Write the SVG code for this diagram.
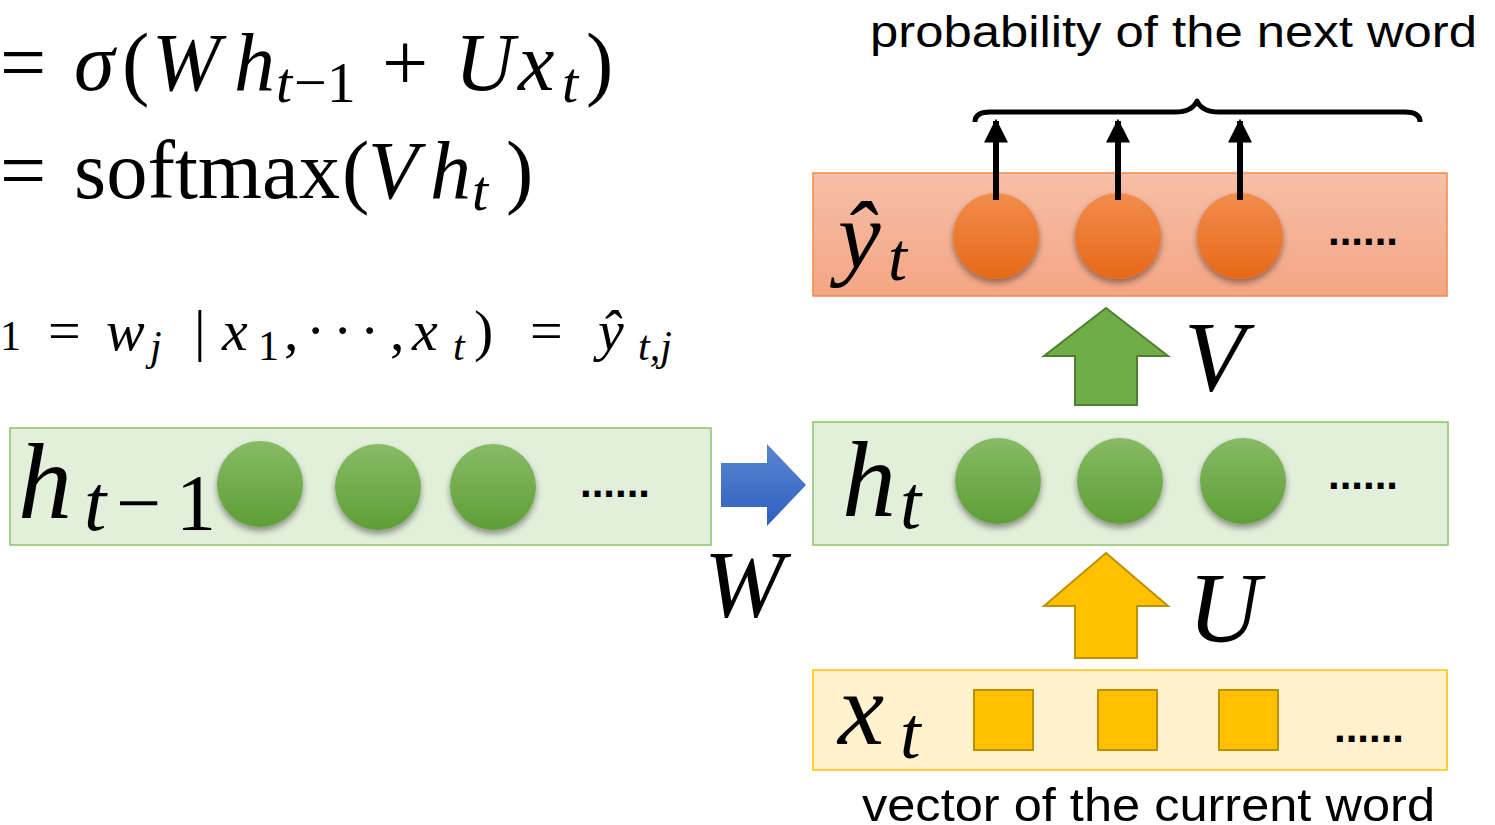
<svg xmlns="http://www.w3.org/2000/svg" width="1495" height="825" viewBox="0 0 1495 825">
<style>
.m{font-family:"Liberation Serif","DejaVu Serif",serif;fill:#000}
.i{font-style:italic}
.lbl{font-family:"Liberation Sans","Open Sans",sans-serif;fill:#000}
.dots{font-family:"Liberation Sans",sans-serif;font-weight:bold;font-size:42px;fill:#000}
</style>
<defs>
<linearGradient id="gG" x1="0" y1="0" x2="0" y2="1"><stop offset="0" stop-color="#86BB65"/><stop offset="1" stop-color="#5F9E36"/></linearGradient>
<linearGradient id="gO" x1="0" y1="0" x2="0" y2="1"><stop offset="0" stop-color="#F28D4E"/><stop offset="1" stop-color="#E76817"/></linearGradient>
<linearGradient id="gBox" x1="0" y1="0" x2="0" y2="1"><stop offset="0" stop-color="#F6BFA8"/><stop offset="1" stop-color="#F4A583"/></linearGradient>
<linearGradient id="gB" x1="0" y1="0" x2="0" y2="1"><stop offset="0" stop-color="#5A86D0"/><stop offset="1" stop-color="#2F5FC0"/></linearGradient>
<filter id="sh" x="-30%" y="-30%" width="160%" height="170%"><feDropShadow dx="0" dy="4" stdDeviation="3" flood-color="#000" flood-opacity="0.4"/></filter>
<marker id="ah" markerWidth="4" markerHeight="4" refX="3.6" refY="2" orient="auto" markerUnits="strokeWidth"><path d="M0,0 L4,2 L0,4 Z" fill="#000"/></marker>
</defs>

<!-- formulas -->
<g id="formulas">
<text class="m" font-size="82" y="90"><tspan x="0">=</tspan><tspan class="i" x="74">σ</tspan><tspan x="122">(</tspan><tspan class="i" x="152">W</tspan><tspan class="i" x="234">h</tspan><tspan class="i" x="276" y="102" font-size="58">t</tspan><tspan x="294" y="102" font-size="58">−1</tspan><tspan x="382" y="90">+</tspan><tspan class="i" x="455">U</tspan><tspan class="i" x="518">x</tspan><tspan class="i" x="562" y="102" font-size="58">t</tspan><tspan x="586" y="90">)</tspan></text>
<text class="m" font-size="82" y="198"><tspan x="0">=</tspan><tspan x="74" textLength="266" lengthAdjust="spacingAndGlyphs">softmax</tspan><tspan x="342">(</tspan><tspan class="i" x="368">V</tspan><tspan class="i" x="430">h</tspan><tspan class="i" x="472" y="210" font-size="58">t</tspan><tspan x="506" y="198">)</tspan></text>
<text class="m" font-size="58" y="350"><tspan x="0" y="350" font-size="42">1</tspan><tspan x="48" y="350">=</tspan><tspan class="i" x="106">w</tspan><tspan class="i" x="150" y="360" font-size="42">j</tspan><tspan x="194" y="350">|</tspan><tspan class="i" x="222">x</tspan><tspan x="258" y="360" font-size="42">1</tspan><tspan x="284" y="350">,</tspan><tspan x="306">·</tspan><tspan x="333">·</tspan><tspan x="360">·</tspan><tspan x="390">,</tspan><tspan class="i" x="412">x</tspan><tspan class="i" x="453" y="360" font-size="42">t</tspan><tspan x="474" y="350">)</tspan><tspan x="530">=</tspan><tspan class="i" x="598">ŷ</tspan><tspan class="i" x="638" y="360" font-size="42">t,j</tspan></text>
</g>

<!-- top label and brace -->
<g id="output-label">
<text class="lbl" x="870" y="47" font-size="45" textLength="607" lengthAdjust="spacingAndGlyphs">probability of the next word</text>
<path d="M975,122 Q975,112 990,112 L1175,112 Q1192,112 1197,101 Q1202,112 1219,112 L1405,112 Q1420,112 1420,122" fill="none" stroke="#000" stroke-width="5" stroke-linejoin="round"/>
</g>

<!-- y_hat layer -->
<g id="yhat-layer">
<rect x="813" y="173" width="634" height="123" fill="url(#gBox)" stroke="#F08A4B" stroke-width="1.5"/>
<text class="m" font-size="96" y="268"><tspan class="i" x="838">ŷ</tspan><tspan class="i" x="888" y="280" font-size="68">t</tspan></text>
<circle cx="996" cy="236" r="43" fill="url(#gO)" filter="url(#sh)"/>
<circle cx="1118" cy="236" r="43" fill="url(#gO)" filter="url(#sh)"/>
<circle cx="1240" cy="236" r="43" fill="url(#gO)" filter="url(#sh)"/>
<text class="dots" x="1328" y="245">......</text>
</g>

<!-- h_t layer -->
<g id="ht-layer">
<rect x="813" y="422" width="635" height="123" fill="#E2EFDA" stroke="#8CC46A" stroke-width="1.5"/>
<text class="m" font-size="108" y="516"><tspan class="i" x="842">h</tspan><tspan class="i" x="900" y="528" font-size="76">t</tspan></text>
<circle cx="998" cy="481" r="43" fill="url(#gG)" filter="url(#sh)"/>
<circle cx="1120" cy="481" r="43" fill="url(#gG)" filter="url(#sh)"/>
<circle cx="1243" cy="481" r="43" fill="url(#gG)" filter="url(#sh)"/>
<text class="dots" x="1328" y="489">......</text>
</g>

<!-- h_{t-1} layer -->
<g id="htm1-layer">
<rect x="10" y="428" width="701" height="117" fill="#E2EFDA" stroke="#8CC46A" stroke-width="1.5"/>
<text class="m" font-size="108" y="518"><tspan class="i" x="18">h</tspan><tspan class="i" x="84" y="530" font-size="80">t</tspan><tspan x="116" y="530" font-size="80" textLength="100">−1</tspan></text>
<circle cx="260" cy="484" r="43" fill="url(#gG)" filter="url(#sh)"/>
<circle cx="378" cy="487" r="43" fill="url(#gG)" filter="url(#sh)"/>
<circle cx="493" cy="487" r="43" fill="url(#gG)" filter="url(#sh)"/>
<text class="dots" x="580" y="497">......</text>
</g>

<!-- x_t layer -->
<g id="xt-layer">
<rect x="813" y="670" width="634" height="100" fill="#FFF2CC" stroke="#FFC000" stroke-width="1.5"/>
<text class="m" font-size="104" y="744"><tspan class="i" x="838">x</tspan><tspan class="i" x="900" y="758" font-size="74">t</tspan></text>
<rect x="974" y="690" width="59" height="60" fill="#FFC000" stroke="#BF9000" stroke-width="2"/>
<rect x="1098" y="690" width="59" height="60" fill="#FFC000" stroke="#BF9000" stroke-width="2"/>
<rect x="1219" y="690" width="59" height="60" fill="#FFC000" stroke="#BF9000" stroke-width="2"/>
<text class="dots" x="1334" y="742">......</text>
<text class="lbl" x="862" y="821" font-size="46" textLength="573" lengthAdjust="spacingAndGlyphs">vector of the current word</text>
</g>

<!-- connectors -->
<g id="connectors">
<line x1="996" y1="200" x2="996" y2="121" stroke="#000" stroke-width="6" marker-end="url(#ah)"/>
<line x1="1118" y1="200" x2="1118" y2="121" stroke="#000" stroke-width="6" marker-end="url(#ah)"/>
<line x1="1240" y1="200" x2="1240" y2="121" stroke="#000" stroke-width="6" marker-end="url(#ah)"/>
<path d="M1106,308 L1168,356 L1137,356 L1137,405 L1075,405 L1075,356 L1044,356 Z" fill="#70AD47" stroke="#507E32" stroke-width="2"/>
<path d="M1106,553 L1168,606 L1137,606 L1137,658 L1075,658 L1075,606 L1044,606 Z" fill="#FFC000" stroke="#BF9000" stroke-width="2"/>
<path d="M721,463 L767,463 L767,444 L806,485 L767,526 L767,507 L721,507 Z" fill="url(#gB)"/>
</g>

<g id="weight-labels">
<text class="m i" x="1184" y="390" font-size="100">V</text>
<text class="m i" x="1188" y="641" font-size="100">U</text>
<text class="m i" x="704" y="617" font-size="96">W</text>
</g>
</svg>
